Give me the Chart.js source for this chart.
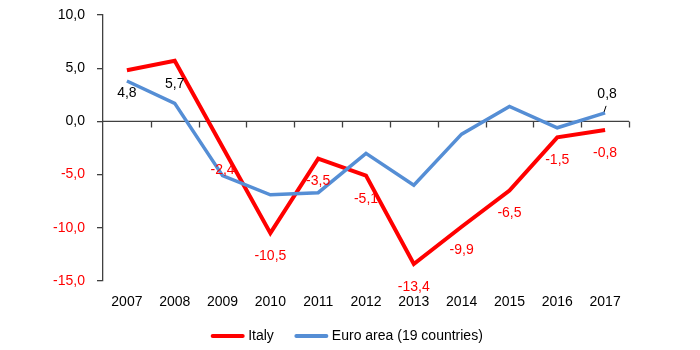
<!DOCTYPE html>
<html><head><meta charset="utf-8">
<script src="https://cdn.jsdelivr.net/npm/chart.js@4/dist/chart.umd.min.js"></script>
<style>html,body{margin:0;padding:0;background:#fff}#wrap{width:700px;height:350px}</style>
</head><body><div id="wrap"><canvas id="c" width="700" height="350"></canvas></div>
<script>
const years = ['2007','2008','2009','2010','2011','2012','2013','2014','2015','2016','2017'];
const italy = [4.8, 5.7, -2.4, -10.5, -3.5, -5.1, -13.4, -9.9, -6.5, -1.5, -0.8];
const euroArea = [3.8, 1.7, -5.1, -6.9, -6.7, -3.0, -6.0, -1.2, 1.4, -0.6, 0.8];
const yTicks = [10, 5, 0, -5, -10, -15];
const seriesNames = ['Italy', 'Euro area (19 countries)'];
const euroLabelled = [10];

const FONT = 'Liberation Sans, Arial, sans-serif';
const RED = '#FF0000';
const BLUE = '#558ED5';
const AXIS = '#404040';
const fmt = v => v.toFixed(1).replace('.', ',');

const zeroAxis = {
  id: 'zeroAxis',
  beforeDatasetsDraw(chart) {
    const {ctx, chartArea: a, scales: {x, y}} = chart;
    const y0 = y.getPixelForValue(0);
    ctx.save();
    ctx.strokeStyle = AXIS;
    ctx.lineWidth = 1.3;
    ctx.beginPath();
    ctx.moveTo(a.left, y0); ctx.lineTo(a.right, y0);
    const n = chart.data.labels.length;
    for (let i = 1; i <= n; i++) {
      const xx = Math.round(a.left + i * (a.right - a.left) / n) + 0.5;
      ctx.moveTo(xx, y0); ctx.lineTo(xx, y0 + 6);
    }
    ctx.stroke();
    ctx.restore();
  }
};

const valueLabels = {
  id: 'valueLabels',
  afterDatasetsDraw(chart) {
    const {ctx} = chart;
    ctx.save();
    ctx.font = '14px ' + FONT;
    ctx.textAlign = 'center';
    ctx.textBaseline = 'middle';
    const m0 = chart.getDatasetMeta(0);
    m0.data.forEach((p, i) => {
      const v = italy[i];
      ctx.fillStyle = v < 0 ? RED : '#000';
      ctx.fillText(fmt(v), p.x, p.y + 23);
    });
    const m1 = chart.getDatasetMeta(1);
    euroLabelled.forEach(i => {
      const p = m1.data[i];
      const v = euroArea[i];
      ctx.fillStyle = v < 0 ? RED : '#000';
      ctx.fillText(fmt(v), p.x + 2, p.y - 19);
      ctx.strokeStyle = '#000';
      ctx.lineWidth = 1;
      ctx.beginPath();
      ctx.moveTo(p.x - 1, p.y - 1);
      ctx.lineTo(p.x + 1, p.y - 7);
      ctx.stroke();
    });
    ctx.restore();
  }
};

const lineLegend = {
  id: 'lineLegend',
  afterDraw(chart) {
    const {ctx} = chart;
    ctx.save();
    ctx.font = '14px ' + FONT;
    ctx.textBaseline = 'middle';
    const lineW = 33, gap = 4, itemGap = 21;
    const items = chart.data.datasets.map(d => ({text: d.label, color: d.borderColor, w: ctx.measureText(d.label).width}));
    let total = 0;
    items.forEach((it, i) => { total += lineW + gap + it.w + (i ? itemGap : 0); });
    let x = 347 - total / 2;
    const yc = 336;
    ctx.lineCap = 'round';
    ctx.lineWidth = 4;
    items.forEach((it, i) => {
      if (i) x += itemGap;
      ctx.strokeStyle = it.color;
      ctx.beginPath();
      ctx.moveTo(x + 1.5, yc); ctx.lineTo(x + lineW - 1.5, yc);
      ctx.stroke();
      x += lineW + gap;
      ctx.fillStyle = '#000';
      ctx.fillText(it.text, x, yc);
      x += it.w;
    });
    ctx.restore();
  }
};

new Chart(document.getElementById('c'), {
  type: 'line',
  data: {
    labels: years,
    datasets: [
      {label: seriesNames[0], data: italy, borderColor: RED, backgroundColor: RED, borderWidth: 4, pointRadius: 0, tension: 0, order: 1},
      {label: seriesNames[1], data: euroArea, borderColor: BLUE, backgroundColor: BLUE, borderWidth: 3.5, pointRadius: 0, tension: 0, order: 0}
    ]
  },
  options: {
    responsive: false,
    devicePixelRatio: 1,
    animation: false,
    layout: {padding: {left: 0, right: 71, top: 15, bottom: 33}},
    plugins: {legend: {display: false}, tooltip: {enabled: false}},
    scales: {
      x: {
        offset: true,
        grid: {display: false, drawTicks: false},
        border: {display: false},
        ticks: {color: '#000', font: {family: FONT, size: 14}, padding: 13, maxRotation: 0, autoSkip: false},
        afterFit(s) { s.height = 36; }
      },
      y: {
        min: -15, max: 10,
        afterBuildTicks(s) { s.ticks = yTicks.map(v => ({value: v})); },
        grid: {drawOnChartArea: false, drawTicks: true, tickLength: 6, color: AXIS, lineWidth: 1.3},
        border: {display: true, color: AXIS, width: 1.3},
        ticks: {
          font: {family: FONT, size: 14}, padding: 12,
          color: c => (c.tick && c.tick.value < 0) ? RED : '#000',
          callback: v => fmt(v)
        },
        afterFit(s) { s.width = 103; s.paddingTop = 0; s.paddingBottom = 0; }
      }
    }
  },
  plugins: [zeroAxis, valueLabels, lineLegend]
});
</script></body></html>
